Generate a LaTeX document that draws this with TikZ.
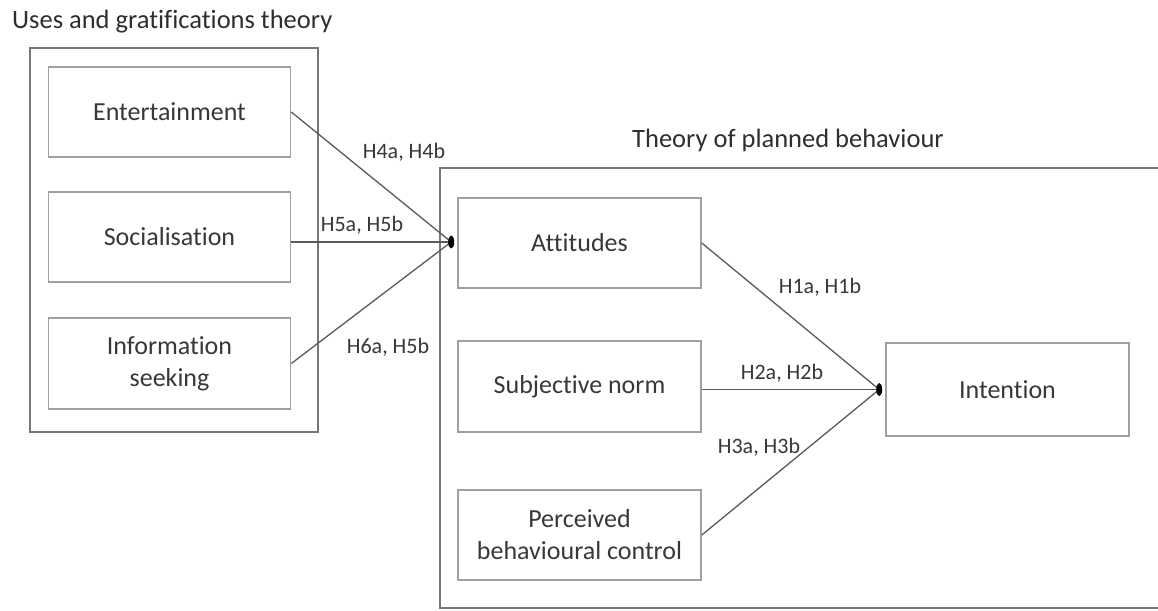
\documentclass[tikz,border=0pt]{standalone}
\usepackage{fontspec}
\setmainfont{Carlito}[Ligatures={NoCommon}]
\usetikzlibrary{calc}
\definecolor{boxgray}{HTML}{A0A0A0}
\definecolor{framegray}{HTML}{777777}
\definecolor{linegray}{HTML}{5A5A5A}
\definecolor{txt}{HTML}{383838}
\definecolor{titletxt}{HTML}{2E2E2E}
\begin{document}
\begin{tikzpicture}[x=1pt,y=-1pt,
  box/.style={draw=boxgray, line width=1.6pt, minimum width=242pt, minimum height=90pt,
    text=txt, font=\fontsize{26}{32}\selectfont, align=center, inner sep=0pt},
  frame/.style={draw=framegray, line width=1.8pt, inner sep=0pt},
  conn/.style={draw=linegray, line width=1.3pt},
  hlabel/.style={text=txt, font=\fontsize{22}{26}\selectfont, inner sep=0pt},
  title/.style={text=titletxt, font=\fontsize{26.5}{32}\selectfont, inner sep=0pt, anchor=west}
]
\clip (0,0) rectangle (1158,610);
\fill[white] (0,0) rectangle (1158,610);

% titles
\node[title] (t1) at (12,22) {Uses and gratifications theory};
\node[title] (t2) at (632,140) {Theory of planned behaviour};

% container frames
\node[frame, minimum width=288pt, minimum height=384pt] (ugt) at (174,240) {};
\node[frame, minimum width=730pt, minimum height=440pt] (tpb) at (805,388) {};

% UGT boxes
\node[box] (ent) at (169.5,112) {Entertainment};
\node[box] (soc) at (169.5,237) {Socialisation};
\node[box, minimum height=91pt] (inf) at (169.5,363.5) {Information\\seeking};

% TPB boxes
\node[box, minimum width=243pt] (att) at (579.5,243) {Attitudes};
\node[box, minimum width=243pt, minimum height=91pt] (sub) at (579.5,386.5) {Subjective norm};
\node[box, minimum width=243pt] (pbc) at (579.5,535) {Perceived\\behavioural control};
\node[box, minimum width=243pt, minimum height=93pt] (int) at (1007.5,389.5) {Intention};

% junctions
\coordinate (j1) at ($(att.west)+(-6,-1)$);
\coordinate (j2) at ($(int.west)+(-6,0)$);

\draw[conn] (ent.east) -- (j1);
\draw[conn] (soc.east |- j1) -- (j1);
\draw[conn] (inf.east) -- (j1);
\draw[conn] (att.east) -- (j2);
\draw[conn] (sub.east |- j2) -- (j2);
\draw[conn] (pbc.east) -- (j2);

\fill[black] (j1) ellipse (3pt and 6.5pt);
\fill[black] (j2) ellipse (3pt and 6.5pt);

% labels
\node[hlabel] (l4) at (404,152) {H4a, H4b};
\node[hlabel] (l5) at (362,225) {H5a, H5b};
\node[hlabel] (l6) at (388,347) {H6a, H5b};
\node[hlabel] (l1) at (820,287) {H1a, H1b};
\node[hlabel] (l2) at (782,373) {H2a, H2b};
\node[hlabel] (l3) at (759,447) {H3a, H3b};
\end{tikzpicture}
\end{document}
